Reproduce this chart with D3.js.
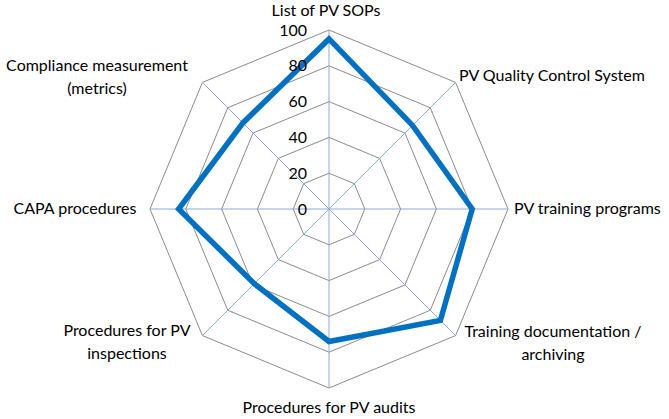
<!DOCTYPE html>
<html>
<head>
<meta charset="utf-8">
<script src="https://cdn.jsdelivr.net/npm/d3@7"></script>
<style>
  body { margin: 0; background: #fff; }
  svg { display: block; }
  text { font-family: Lato, "Open Sans", sans-serif; fill: #000; }
</style>
</head>
<body>
<svg id="chart"></svg>
<script>
// categories, clockwise from the top
const categories = [
  ['List of PV SOPs'],
  ['PV Quality Control System'],
  ['PV training programs'],
  ['Training documentation /', 'archiving'],
  ['Procedures for PV audits'],
  ['Procedures for PV', 'inspections'],
  ['CAPA procedures'],
  ['Compliance measurement', '(metrics)']
];
const values = [95, 66, 80, 88, 74, 59, 84, 68];
const tickValues = [0, 20, 40, 60, 80, 100];

// label placement, per category (x, y of first line, anchor)
const labelPos = [
  {x: 326, y: 10, anchor: 'middle'},
  {x: 459, y: 75, anchor: 'start'},
  {x: 514, y: 208, anchor: 'start'},
  {x: 553, y: 331, anchor: 'middle'},
  {x: 329, y: 407, anchor: 'middle'},
  {x: 127, y: 330, anchor: 'middle'},
  {x: 75, y: 208, anchor: 'middle'},
  {x: 97, y: 65, anchor: 'middle'}
];

const width = 669, height = 419;
const cx = 329, cy = 209, radius = 179;

const svg = d3.select('#chart')
  .attr('width', width)
  .attr('height', height);

const rScale = d3.scaleLinear().domain([0, 100]).range([0, radius]);
const angle = i => i * 2 * Math.PI / categories.length;

const g = svg.append('g')
  .attr('transform', `translate(${cx},${cy})`);

// rings
const ringLine = d3.lineRadial()
  .angle((d, i) => angle(i))
  .radius(d => rScale(d))
  .curve(d3.curveLinearClosed);

g.selectAll('.ring')
  .data(tickValues.filter(t => t > 0))
  .join('path')
    .attr('class', 'ring')
    .attr('d', t => ringLine(categories.map(() => t)))
    .attr('fill', 'none')
    .attr('stroke', '#8c8c8c')
    .attr('stroke-width', 1);

// spokes
g.selectAll('.spoke')
  .data(categories)
  .join('line')
    .attr('class', 'spoke')
    .attr('x1', 0).attr('y1', 0)
    .attr('x2', (d, i) => rScale(100) * Math.sin(angle(i)))
    .attr('y2', (d, i) => -rScale(100) * Math.cos(angle(i)))
    .attr('stroke', '#8eaad6')
    .attr('stroke-width', 1);

// series
const dataLine = d3.lineRadial()
  .angle((d, i) => angle(i))
  .radius(d => rScale(d))
  .curve(d3.curveLinearClosed);

g.append('path')
  .datum(values)
  .attr('d', dataLine)
  .attr('fill', 'none')
  .attr('stroke', '#0070c0')
  .attr('stroke-width', 5.5)
  .attr('stroke-linejoin', 'miter');

// tick labels
g.selectAll('.tick-label')
  .data(tickValues)
  .join('text')
    .attr('class', 'tick-label')
    .attr('x', -22)
    .attr('y', d => -rScale(d))
    .attr('dy', '0.35em')
    .attr('text-anchor', 'end')
    .style('font-size', '16px')
    .text(d => d);

// category labels
const labels = svg.selectAll('.cat-label')
  .data(categories)
  .join('text')
    .attr('class', 'cat-label')
    .attr('text-anchor', (d, i) => labelPos[i].anchor)
    .style('font-size', '16px');

labels.each(function(lines, i) {
  const p = labelPos[i];
  d3.select(this).selectAll('tspan')
    .data(lines)
    .join('tspan')
      .attr('x', p.x)
      .attr('y', (l, j) => p.y + j * 23)
      .attr('dy', '0.35em')
      .text(l => l);
});
</script>
</body>
</html>
